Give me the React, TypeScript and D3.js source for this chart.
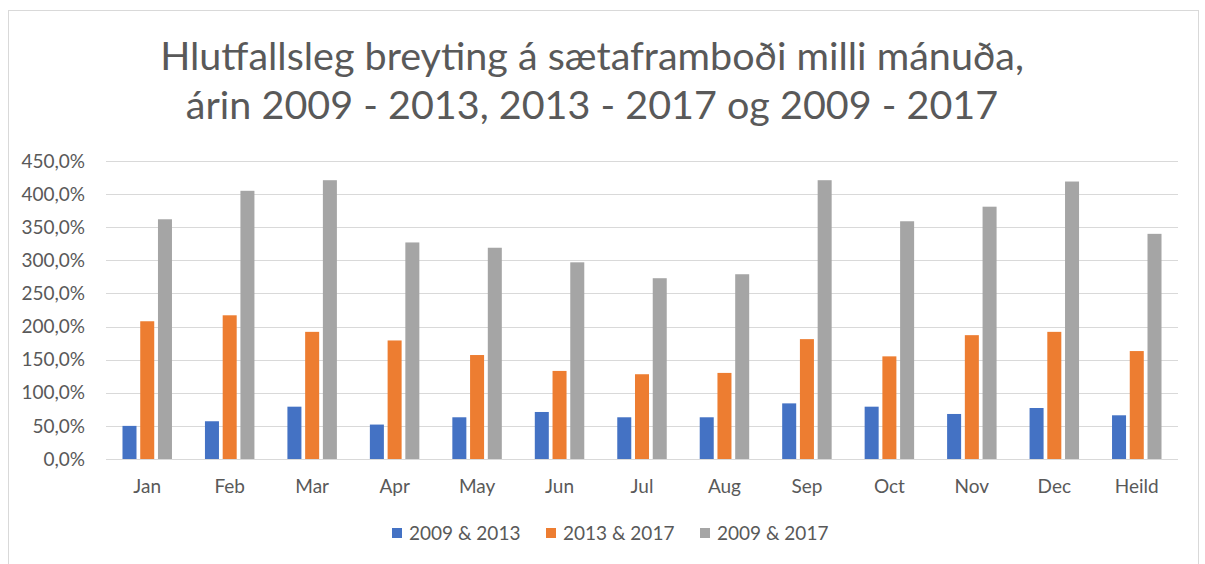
import React from "react"
import * as d3 from "d3"

const categories = ["Jan", "Feb", "Mar", "Apr", "May", "Jun", "Jul", "Aug", "Sep", "Oct", "Nov", "Dec", "Heild"]
const seriesNames = ["2009 & 2013", "2013 & 2017", "2009 & 2017"]
const change2009to2013 = [50, 57, 79, 52, 63, 71, 63, 63, 84, 79, 68, 77, 66]
const change2013to2017 = [208, 217, 192, 179, 157, 133, 128, 130, 181, 155, 187, 192, 163]
const change2009to2017 = [362, 405, 421, 327, 319, 297, 273, 279, 421, 359, 381, 419, 340]
const yTicks = [0, 50, 100, 150, 200, 250, 300, 350, 400, 450]
const titleLines = [
  "Hlutfallsleg breyting á sætaframboði milli mánuða,",
  "árin 2009 - 2013, 2013 - 2017 og 2009 - 2017",
]

const colors = ["#4472C4", "#ED7D31", "#A5A5A5"]
const textColor = "#595959"
const gridColor = "#d9d9d9"
const font = "Lato, 'Open Sans', sans-serif"

const W = 1205
const H = 564
const margin = { top: 161, right: 27, bottom: 105, left: 106 }

export default function App() {
  const values = [change2009to2013, change2013to2017, change2009to2017]
  const plotW = W - margin.left - margin.right
  const plotH = H - margin.top - margin.bottom

  const x = d3.scaleBand<string>().domain(categories).range([0, plotW]).paddingInner(0.4).paddingOuter(0.2)
  const xs = d3.scaleBand<number>().domain([0, 1, 2]).range([0, x.bandwidth()]).paddingInner(0.21)
  const y = d3.scaleLinear().domain([0, 450]).range([plotH, 0])
  const fmt = (v: number) => d3.format(".1f")(v).replace(".", ",") + "%"

  const legendX = d3.scalePoint<number>().domain([0, 1, 2]).range([392, 700])

  return (
    <svg width={W} height={H} style={{ position: "fixed", left: 0, top: 0, background: "#fff" }} fontFamily={font}>
      <rect x={8.5} y={10.5} width={1190} height={H} fill="#fff" stroke={gridColor} />
      <g fill={textColor} fontSize={39.5} textAnchor="middle">
        {titleLines.map((t, i) => (
          <text key={i} x={592} y={70 + i * 49}>{t}</text>
        ))}
      </g>
      <g transform={`translate(${margin.left},${margin.top})`}>
        {yTicks.map((t) => (
          <g key={t}>
            <line x1={0} x2={plotW} y1={Math.round(y(t)) + 0.5} y2={Math.round(y(t)) + 0.5} stroke={gridColor} />
            <text x={-21} y={y(t)} dy="0.35em" textAnchor="end" fontSize={19} fill={textColor}>{fmt(t)}</text>
          </g>
        ))}
        {categories.map((c, ci) => (
          <g key={c} transform={`translate(${x(c)},0)`}>
            {values.map((s, si) => (
              <rect key={si} x={xs(si)} y={y(s[ci])} width={xs.bandwidth()} height={plotH - y(s[ci])} fill={colors[si]} />
            ))}
            <text x={x.bandwidth() / 2} y={plotH + 27} dy="0.35em" textAnchor="middle" fontSize={19} fill={textColor}>{c}</text>
          </g>
        ))}
      </g>
      <g>
        {seriesNames.map((n, i) => (
          <g key={n} transform={`translate(${legendX(i)},533)`}>
            <rect x={0} y={-5} width={10} height={10} fill={colors[i]} />
            <text x={17} y={0} dy="0.35em" fontSize={19} fill={textColor}>{n}</text>
          </g>
        ))}
      </g>
    </svg>
  )
}
